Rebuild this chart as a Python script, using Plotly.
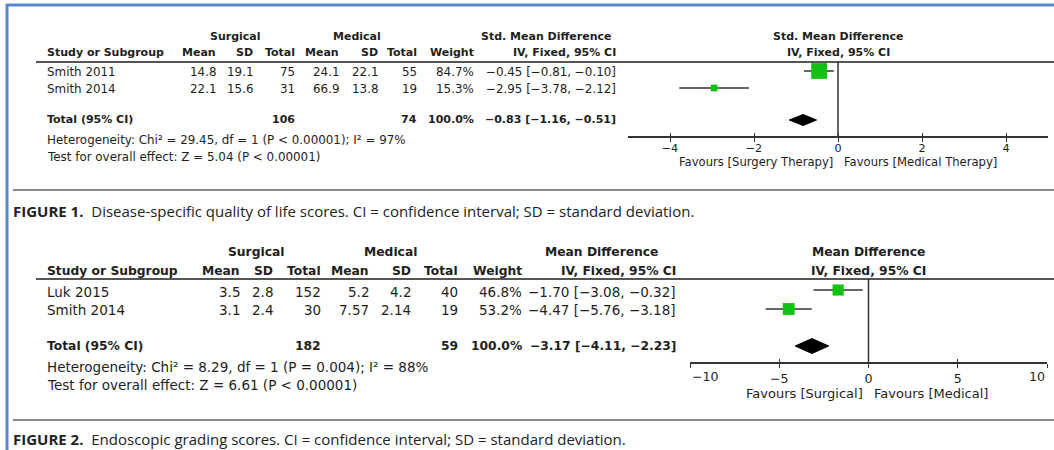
import plotly.graph_objects as go

W, H = 1054, 450

# ---------------- Figure 1 data ----------------
f1_studies = ["Smith 2011", "Smith 2014"]
f1_surg_mean = ["14.8", "22.1"]
f1_surg_sd = ["19.1", "15.6"]
f1_surg_n = [75, 31]
f1_med_mean = ["24.1", "66.9"]
f1_med_sd = ["22.1", "13.8"]
f1_med_n = [55, 19]
f1_weight = [84.7, 15.3]
f1_est = [-0.45, -2.95]
f1_lo = [-0.81, -3.78]
f1_hi = [-0.10, -2.12]
f1_tot_surg_n = 106
f1_tot_med_n = 74
f1_tot_est, f1_tot_lo, f1_tot_hi = -0.83, -1.16, -0.51
f1_het = "Heterogeneity: Chi² = 29.45, df = 1 (P < 0.00001); I² = 97%"
f1_test = "Test for overall effect: Z = 5.04 (P < 0.00001)"
f1_ticks = [-4, -2, 0, 2, 4]
f1_range = [-5, 5]
f1_left_lbl = "Favours [Surgery Therapy]"
f1_right_lbl = "Favours [Medical Therapy]"
f1_caption_b = "FIGURE 1."
f1_caption = "Disease-specific quality of life scores. CI = confidence interval; SD = standard deviation."

# ---------------- Figure 2 data ----------------
f2_studies = ["Luk 2015", "Smith 2014"]
f2_surg_mean = ["3.5", "3.1"]
f2_surg_sd = ["2.8", "2.4"]
f2_surg_n = [152, 30]
f2_med_mean = ["5.2", "7.57"]
f2_med_sd = ["4.2", "2.14"]
f2_med_n = [40, 19]
f2_weight = [46.8, 53.2]
f2_est = [-1.70, -4.47]
f2_lo = [-3.08, -5.76]
f2_hi = [-0.32, -3.18]
f2_tot_surg_n = 182
f2_tot_med_n = 59
f2_tot_est, f2_tot_lo, f2_tot_hi = -3.17, -4.11, -2.23
f2_het = "Heterogeneity: Chi² = 8.29, df = 1 (P = 0.004); I² = 88%"
f2_test = "Test for overall effect: Z = 6.61 (P < 0.00001)"
f2_ticks = [-10, -5, 0, 5, 10]
f2_range = [-10, 10]
f2_left_lbl = "Favours [Surgical]"
f2_right_lbl = "Favours [Medical]"
f2_caption_b = "FIGURE 2."
f2_caption = "Endoscopic grading scores. CI = confidence interval; SD = standard deviation."

# ---------------- styles ----------------
TFONT = "DejaVu Sans"
CFONT = "Open Sans"
TXT = "#1e1e1e"
GREEN = "#12c212"
BLUE = "#5a88cc"


def m(v):
    return str(v).replace("-", "\u2212")


def ci(e, l, h):
    return m(f"{e:.2f} [{l:.2f}, {h:.2f}]")


fig = go.Figure()
annotations = []
shapes = []


def px(x):
    return x / W


def py(y):
    return 1 - y / H


def txt(x, y, s, anchor="left", size=11.3, bold=False, family=TFONT, color=TXT):
    annotations.append(dict(
        x=px(x), y=py(y), xref="paper", yref="paper", text=(f"<b>{s}</b>" if bold else s),
        showarrow=False, xanchor=anchor, yanchor="middle", borderpad=0,
        font=dict(family=family, size=size, color=color)))


def hline(x0, x1, y, color, width):
    shapes.append(dict(type="line", xref="paper", yref="paper", x0=px(x0), x1=px(x1),
                       y0=py(y), y1=py(y), line=dict(color=color, width=width)))


def vline(x, y0, y1, color, width):
    shapes.append(dict(type="line", xref="paper", yref="paper", x0=px(x), x1=px(x),
                       y0=py(y0), y1=py(y1), line=dict(color=color, width=width)))


def panel(cfg):
    fr, fb = cfg["fs"], cfg["fb"]
    c = cfg["cols"]
    # headers
    txt(c["surg_c"], cfg["h1"], "Surgical", "center", fb, True)
    txt(c["med_c"], cfg["h1"], "Medical", "center", fb, True)
    txt(c["ci_c"], cfg["h1"], cfg["title"], "center", fb, True)
    txt(cfg["plot_c"], cfg["h1"], cfg["title"], "center", fb, True)
    txt(46, cfg["h2"], "Study or Subgroup", "left", fb, True)
    for key, lab in [("sm", "Mean"), ("ssd", "SD"), ("sn", "Total"), ("mm", "Mean"),
                     ("msd", "SD"), ("mn", "Total"), ("w", "Weight"), ("ci", "IV, Fixed, 95% CI")]:
        txt(c[key], cfg["h2"], lab, "right", fb, True)
    txt(cfg["plot_c"], cfg["h2"], "IV, Fixed, 95% CI", "center", fb, True)
    hline(36, W, cfg["hline"], "#555555", 2)
    # rows
    d = cfg["data"]
    for i, name in enumerate(d["studies"]):
        y = cfg["rows"][i]
        txt(46, y, name, "left", fr)
        txt(c["sm"], y, d["sm"][i], "right", fr)
        txt(c["ssd"], y, d["ssd"][i], "right", fr)
        txt(c["sn"], y, str(d["sn"][i]), "right", fr)
        txt(c["mm"], y, d["mm"][i], "right", fr)
        txt(c["msd"], y, d["msd"][i], "right", fr)
        txt(c["mn"], y, str(d["mn"][i]), "right", fr)
        txt(c["w"], y, f"{d['w'][i]:.1f}%", "right", fr)
        txt(c["ci"], y, ci(d["est"][i], d["lo"][i], d["hi"][i]), "right", fr)
    # total
    yt = cfg["total"]
    txt(46, yt, "Total (95% CI)", "left", fb, True)
    txt(c["sn"], yt, str(d["tsn"]), "right", fb, True)
    txt(c["mn"], yt, str(d["tmn"]), "right", fb, True)
    txt(c["w"], yt, "100.0%", "right", fb, True)
    txt(c["ci"], yt, ci(d["test"], d["tlo"], d["thi"]), "right", fb, True)
    txt(46, cfg["het"], d["het"], "left", fr)
    txt(46, cfg["tst"], d["tst"], "left", fr)
    # favours labels
    txt(cfg["plot_c"] - 4, cfg["fav"], d["left"], "right", cfg["ft"])
    txt(cfg["plot_c"] + 5, cfg["fav"], d["right"], "left", cfg["ft"])
    # separator and caption
    hline(13, W, cfg["sep"], "#8a8a8a", 2)
    txt(12, cfg["cap"], f"<b>{d['cap_b']}</b>\u00a0 {d['cap']}", "left", 15, False, CFONT, "#222222")

    xa, ya = cfg["xa"], "y"
    # CI lines
    for i in range(len(d["est"])):
        fig.add_trace(go.Scatter(x=[d["lo"][i], d["hi"][i]], y=[cfg["frows"][i]] * 2,
                                 mode="lines", line=dict(color="#333333", width=1.5),
                                 xaxis=xa, yaxis=ya, showlegend=False, hoverinfo="skip"))
    # squares, size ~ sqrt(weight)
    fig.add_trace(go.Scatter(x=d["est"], y=cfg["frows"], mode="markers",
                             marker=dict(symbol="square", color=GREEN, opacity=1,
                                         size=[cfg["sq"] * w ** 0.5 for w in d["w"]],
                                         line=dict(width=0)),
                             xaxis=xa, yaxis=ya, showlegend=False, hoverinfo="skip"))
    # diamond
    hh = cfg["dh"]
    fig.add_trace(go.Scatter(x=[d["tlo"], d["test"], d["thi"], d["test"], d["tlo"]],
                             y=[yt, yt - hh, yt, yt + hh, yt], mode="lines", fill="toself",
                             fillcolor="black", line=dict(color="black", width=1),
                             xaxis=xa, yaxis=ya, showlegend=False, hoverinfo="skip"))
    # zero line
    shapes.append(dict(type="line", xref=xa, yref="y", x0=0, x1=0, y0=cfg["hline"], y1=cfg["axis"],
                       line=dict(color="#333333", width=1.5)))


cfg1 = dict(
    fs=11.9, fb=11.0, ft=11.6, title="Std. Mean Difference", h1=37, h2=53, hline=62,
    rows=[72, 89], frows=[71, 88], total=120, het=140, tst=157, fav=162, axis=137,
    sep=190, cap=211, plot_c=838, xa="x", sq=1.72, dh=5.5,
    cols=dict(surg_c=235, med_c=357, ci_c=546, sm=217, ssd=254, sn=296, mm=340, msd=379,
              mn=418, w=475, ci=617),
    data=dict(studies=f1_studies, sm=f1_surg_mean, ssd=f1_surg_sd, sn=f1_surg_n, mm=f1_med_mean,
              msd=f1_med_sd, mn=f1_med_n, w=f1_weight, est=f1_est, lo=f1_lo, hi=f1_hi,
              tsn=f1_tot_surg_n, tmn=f1_tot_med_n, test=f1_tot_est, tlo=f1_tot_lo, thi=f1_tot_hi,
              het=f1_het, tst=f1_test, left=f1_left_lbl, right=f1_right_lbl,
              cap_b=f1_caption_b, cap=f1_caption))
cfg2 = dict(
    fs=13.5, fb=12.3, ft=13.0, title="Mean Difference", h1=252, h2=271, hline=279,
    rows=[292, 310], frows=[290, 309], total=346, het=367, tst=385, fav=393, axis=363,
    sep=420, cap=439, plot_c=868, xa="x2", sq=1.63, dh=7.5,
    cols=dict(surg_c=256, med_c=390, ci_c=601, sm=241, ssd=274, sn=322, mm=370, msd=412,
              mn=459, w=523, ci=677),
    data=dict(studies=f2_studies, sm=f2_surg_mean, ssd=f2_surg_sd, sn=f2_surg_n, mm=f2_med_mean,
              msd=f2_med_sd, mn=f2_med_n, w=f2_weight, est=f2_est, lo=f2_lo, hi=f2_hi,
              tsn=f2_tot_surg_n, tmn=f2_tot_med_n, test=f2_tot_est, tlo=f2_tot_lo, thi=f2_tot_hi,
              het=f2_het, tst=f2_test, left=f2_left_lbl, right=f2_right_lbl,
              cap_b=f2_caption_b, cap=f2_caption))

panel(cfg1)
panel(cfg2)

# dummy traces so overlay axes render
for xa in ["x3", "x4"]:
    fig.add_trace(go.Scatter(x=[None], y=[None], xaxis=xa, yaxis="y", showlegend=False,
                             hoverinfo="skip"))

# blue frame
hline(6, W, 5, BLUE, 3)
vline(7, 4, H, BLUE, 3)

# fig 2 end tick labels drawn inward (as in the source)
annotations.append(dict(x=f2_range[0], y=py(cfg2["axis"] + 13), xref="x2", yref="paper",
                        text=m(str(f2_ticks[0])), showarrow=False, xanchor="left", yanchor="middle",
                        font=dict(family=TFONT, size=12.6, color=TXT)))
annotations.append(dict(x=f2_range[1], y=py(cfg2["axis"] + 13), xref="x2", yref="paper",
                        text=m(str(f2_ticks[-1])), showarrow=False, xanchor="right", yanchor="middle",
                        font=dict(family=TFONT, size=12.6, color=TXT)))


def forest_axis(dom, rng, ticks, ttext, pos, fs, ticks_dir, labels, standoff=0):
    return dict(domain=dom, range=rng, autorange=False, tickmode="array", tickvals=ticks,
                ticktext=ttext, anchor="free", position=pos, showline=labels,
                linecolor="#333333", linewidth=1.5, ticks=ticks_dir, ticklen=4, tickwidth=1.3,
                tickcolor="#333333", showticklabels=labels, showgrid=False, zeroline=False,
                fixedrange=True, ticklabeloverflow="allow", ticklabelstandoff=standoff,
                tickfont=dict(family=TFONT, size=fs, color=TXT))


f1_text = [m(str(t)) for t in f1_ticks]
f2_text = [""] + [m(str(t)) for t in f2_ticks[1:-1]] + [""]
p1 = py(cfg1["axis"])
p2 = py(cfg2["axis"])
dom1 = [628 / W, 1048 / W]
dom2 = [690 / W, 1047 / W]

fig.update_layout(
    width=W, height=H, margin=dict(l=0, r=0, t=0, b=0),
    paper_bgcolor="white", plot_bgcolor="rgba(0,0,0,0)",
    xaxis=forest_axis(dom1, f1_range, f1_ticks, f1_text, p1, 11.2, "outside", True, -3),
    xaxis3=dict(forest_axis(dom1, f1_range, f1_ticks, f1_text, p1, 11, "inside", False), overlaying="x"),
    xaxis2=forest_axis(dom2, f2_range, f2_ticks, f2_text, p2, 12.6, "outside", True),
    xaxis4=dict(forest_axis(dom2, f2_range, f2_ticks, f2_text, p2, 12.6, "inside", False), overlaying="x2"),
    yaxis=dict(domain=[0, 1], range=[H, 0], autorange=False, visible=False, fixedrange=True),
    annotations=annotations, shapes=shapes, showlegend=False,
)

fig.write_html("out.html")
